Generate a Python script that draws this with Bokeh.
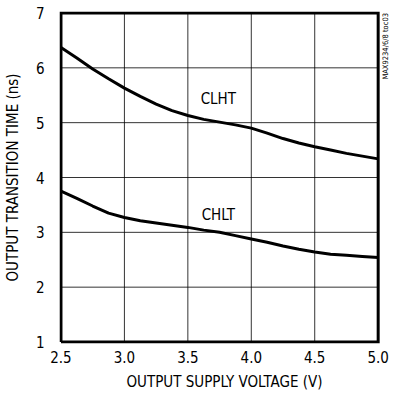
import math
from bokeh.plotting import figure
from bokeh.models import Label, FixedTicker
from bokeh.embed import file_html
from bokeh.resources import INLINE

voltage = [2.5, 2.625, 2.75, 2.875, 3.0, 3.125, 3.25, 3.375, 3.5, 3.625, 3.75,
           3.875, 4.0, 4.125, 4.25, 4.375, 4.5, 4.625, 4.75, 4.875, 5.0]
clht = [6.37, 6.18, 5.98, 5.80, 5.63, 5.48, 5.34, 5.22, 5.13, 5.06, 5.01,
        4.96, 4.90, 4.81, 4.71, 4.63, 4.56, 4.50, 4.44, 4.39, 4.34]
chlt = [3.75, 3.62, 3.48, 3.35, 3.27, 3.21, 3.17, 3.13, 3.09, 3.04, 3.00,
        2.94, 2.88, 2.82, 2.75, 2.69, 2.64, 2.60, 2.58, 2.56, 2.54]
x_ticks = [2.5, 3.0, 3.5, 4.0, 4.5, 5.0]
y_ticks = [1, 2, 3, 4, 5, 6, 7]
x_title = "OUTPUT SUPPLY VOLTAGE (V)"
y_title = "OUTPUT TRANSITION TIME (ns)"
note = "MAX9234/6/8 toc03"

FONT = "'DejaVu Sans Condensed', 'Roboto', sans-serif"

# layout: the frame is a little larger than the plotted box so that the
# frame border is fully visible and the side note fits to its right
x0, x1 = x_ticks[0], x_ticks[-1]
y0, y1 = y_ticks[0], y_ticks[-1]
PAD = 1.5                      # px between frame edge and box line
BOX_W = 322.0                  # px width of plotted box
FRAME_W = 389 - 54             # px width of frame
BOX_H = 327.0                  # px height of plotted box
kx = (x1 - x0) / BOX_W
ky = (y1 - y0) / BOX_H
x_rng = (x0 - PAD * kx, x1 + (FRAME_W - PAD - BOX_W) * kx)
y_rng = (y0 - PAD * ky, y1 + PAD * ky)

p = figure(width=389, height=393, x_range=x_rng, y_range=y_rng,
           output_backend="svg", toolbar_location=None,
           min_border_left=54, min_border_right=0, min_border_top=11, min_border_bottom=40)
p.background_fill_color = "white"
p.border_fill_color = "white"
p.outline_line_color = None
p.grid.visible = False

# grid lines
inner_x = x_ticks[1:-1]
inner_y = y_ticks[1:-1]
p.segment(x0=inner_x, y0=[y0] * len(inner_x), x1=inner_x, y1=[y1] * len(inner_x),
          line_color="black", line_width=1, line_alpha=0.8)
p.segment(x0=[x0] * len(inner_y), y0=inner_y, x1=[x1] * len(inner_y), y1=inner_y,
          line_color="black", line_width=1, line_alpha=0.8)
# box
p.line([x0, x1, x1, x0, x0], [y0, y0, y1, y1, y0], line_color="black", line_width=3,
       line_join="miter")

p.line(voltage, clht, line_color="black", line_width=3, line_join="round")
p.line(voltage, chlt, line_color="black", line_width=3, line_join="round")

p.xaxis.ticker = FixedTicker(ticks=x_ticks)
p.yaxis.ticker = FixedTicker(ticks=y_ticks)
p.xaxis.major_label_overrides = {t: f"{t:.1f}" for t in x_ticks}
for ax in (p.xaxis, p.yaxis):
    ax.axis_line_color = None
    ax.major_tick_line_color = None
    ax.minor_tick_line_color = None
    ax.major_tick_out = 0
    ax.major_tick_in = 0
    ax.minor_tick_out = 0
    ax.minor_tick_in = 0
    ax.major_label_text_font = FONT
    ax.major_label_text_font_size = "15px"
    ax.major_label_text_color = "black"
    ax.axis_label_text_font = FONT
    ax.axis_label_text_font_size = "15px"
    ax.axis_label_text_font_style = "normal"
    ax.axis_label_text_color = "black"
p.xaxis.axis_label = x_title
p.yaxis.axis_label = y_title
p.xaxis.major_label_standoff = 7
p.xaxis.axis_label_standoff = 7
p.yaxis.major_label_standoff = 15
p.yaxis.axis_label_standoff = 11

p.add_layout(Label(x=3.74, y=5.44, text="CLHT", text_font=FONT, text_font_size="15px",
                   text_align="center", text_baseline="middle", text_color="black"))
p.add_layout(Label(x=3.74, y=3.31, text="CHLT", text_font=FONT, text_font_size="15px",
                   text_align="center", text_baseline="middle", text_color="black"))
p.add_layout(Label(x=x1, y=y1, x_offset=3, text=note, angle=math.pi / 2,
                   text_font=FONT, text_font_size="7.5px", text_align="right",
                   text_baseline="top", text_color="black"))

open("out.html", "w").write(file_html(p, INLINE))
